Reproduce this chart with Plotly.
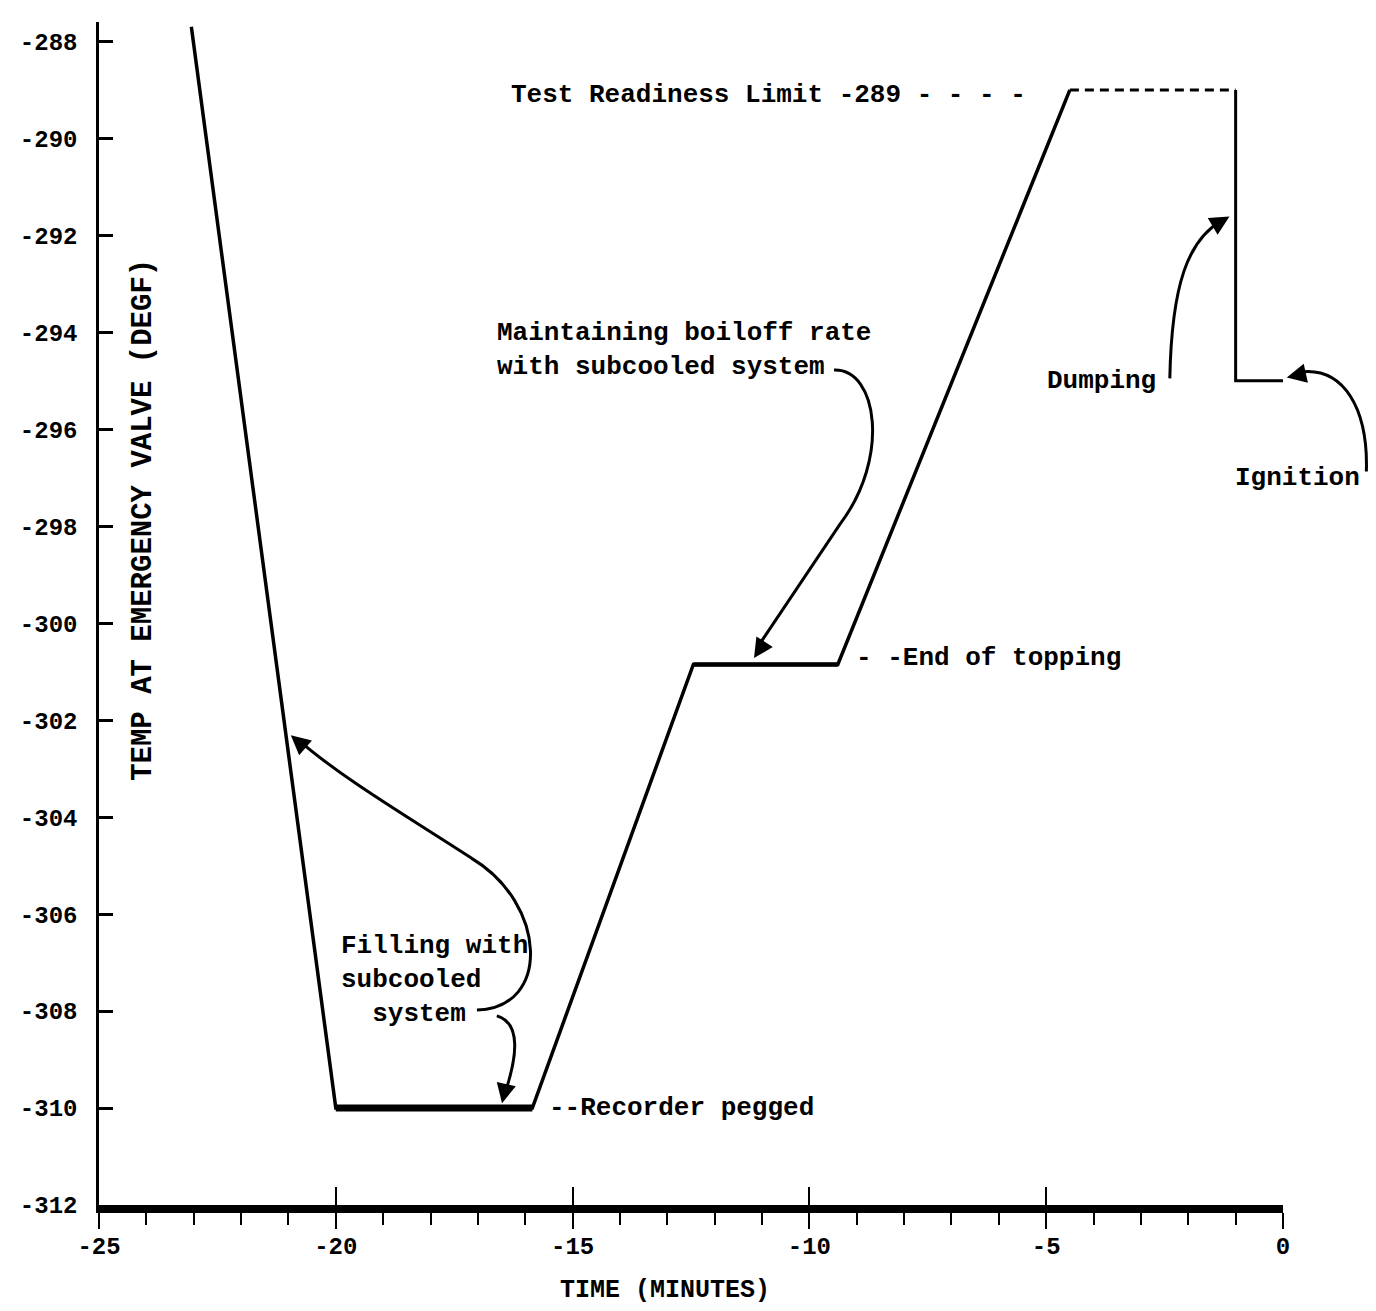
import plotly.graph_objects as go

# ---------------- data ----------------
time_min = [-23.05, -20.0, -15.85, -12.45, -9.4, -4.5]
temp_degf = [-287.7, -310.0, -310.0, -300.85, -300.85, -289.0]

limit_time = [-4.5, -1.0]
limit_temp = [-289.0, -289.0]

dump_time = [-1.0, -1.0, 0.0]
dump_temp = [-289.0, -295.0, -295.0]

x_ticks = [-25, -20, -15, -10, -5, 0]
x_ticktext = ["-25", "-20", "-15", "-10", "-5", "0"]
y_ticks = list(range(-312, -286, 2))
y_ticktext = [str(v) for v in y_ticks]

X_RANGE = [-25, 0]
Y_RANGE = [-312, -287.6]

FONT = "Liberation Mono, Courier New, DejaVu Sans Mono, monospace"


def px(x):
    return (x - X_RANGE[0]) / (X_RANGE[1] - X_RANGE[0])


def py(y):
    return (y - Y_RANGE[0]) / (Y_RANGE[1] - Y_RANGE[0])


def bezier_path(start, *segs):
    p = "M %.5f,%.5f" % (px(start[0]), py(start[1]))
    for seg in segs:
        if len(seg) == 3:
            p += " C " + " ".join("%.5f,%.5f" % (px(a), py(b)) for a, b in seg)
        else:
            p += " L %.5f,%.5f" % (px(seg[0][0]), py(seg[0][1]))
    return p


fig = go.Figure()

fig.add_trace(go.Scatter(x=time_min, y=temp_degf, mode="lines",
                         line=dict(color="black", width=3.5), showlegend=False,
                         hoverinfo="skip"))
fig.add_trace(go.Scatter(x=time_min[1:3], y=temp_degf[1:3], mode="lines",
                         line=dict(color="black", width=7), showlegend=False,
                         hoverinfo="skip"))
fig.add_trace(go.Scatter(x=time_min[3:5], y=temp_degf[3:5], mode="lines",
                         line=dict(color="black", width=4.5), showlegend=False,
                         hoverinfo="skip"))
fig.add_trace(go.Scatter(x=limit_time, y=limit_temp, mode="lines", xaxis="x2",
                         line=dict(color="black", width=3, dash="9px,6px"),
                         showlegend=False, hoverinfo="skip"))
fig.add_trace(go.Scatter(x=dump_time, y=dump_temp, mode="lines",
                         line=dict(color="black", width=3), showlegend=False,
                         hoverinfo="skip"))

# ---------------- curved leader lines ----------------
curves = [
    # Maintaining boiloff -> plateau
    bezier_path((-9.48, -294.78),
                ((-8.55, -294.75), (-8.3, -296.6), (-9.35, -297.95)),
                ((-11.1, -300.5),)),
    # Filling -> upper arrow
    bezier_path((-17.02, -307.98),
                ((-15.44, -307.94), (-15.55, -305.77), (-17.13, -304.85)),
                ((-18.6, -303.92), (-19.86, -303.2), (-20.8, -302.4))),
    # Filling -> lower arrow
    bezier_path((-16.6, -308.1),
                ((-16.07, -308.25), (-16.18, -308.97), (-16.43, -309.7))),
    # Dumping
    bezier_path((-2.39, -294.95),
                ((-2.35, -293.0), (-2.0, -292.1), (-1.3, -291.7))),
    # Ignition
    bezier_path((1.76, -296.87),
                ((1.8, -295.6), (1.3, -294.7), (0.35, -294.82))),
]
for c in curves:
    fig.add_shape(type="path", path=c, xref="paper", yref="paper",
                  line=dict(color="black", width=3))

# ---------------- arrowheads ----------------
heads = [
    ((-11.17, -300.72), 11, -17),
    ((-20.95, -302.31), 15, 13),
    ((-16.49, -309.9), 4, -18),
    ((-1.13, -291.61), -17, 10),
    ((0.08, -294.93), 18, -4),
]
for (hx, hy), ax, ay in heads:
    fig.add_annotation(x=px(hx), y=py(hy), xref="paper", yref="paper",
                       ax=ax, ay=ay, text="", showarrow=True, arrowhead=2,
                       arrowsize=1.3, arrowwidth=3, arrowcolor="black", standoff=0)

# ---------------- text labels ----------------
labels = [
    ("Test Readiness Limit -289 - - - -", -16.35, -289.11, "left"),
    ("Maintaining boiloff rate<br>with subcooled system", -16.64, -294.37, "left"),
    ("Filling with<br>subcooled<br>\u00a0\u00a0system", -19.93, -307.36, "left"),
    ("--Recorder pegged", -15.55, -310.0, "left"),
    ("- -End of topping", -9.06, -300.72, "left"),
    ("Dumping", -3.84, -295.01, "center"),
    ("Ignition", 0.31, -297.01, "center"),
]
for txt, lx, ly, anc in labels:
    fig.add_annotation(x=px(lx), y=py(ly), xref="paper", yref="paper", text=txt,
                       showarrow=False, xanchor=anc, yanchor="middle", align="left",
                       font=dict(family=FONT, size=26, color="black", weight="bold"))

# axis titles (placed as in the original, inside the frame for y)
fig.add_annotation(x=0.037, y=0.579, xref="paper", yref="paper",
                   text="TEMP AT EMERGENCY VALVE (DEGF)", textangle=-90,
                   showarrow=False, xanchor="center", yanchor="middle",
                   font=dict(family=FONT, size=29, color="black", weight="bold"))
fig.add_annotation(x=0.4777, y=-0.072, xref="paper", yref="paper",
                   text="TIME (MINUTES)", showarrow=False, yanchor="middle",
                   xanchor="center",
                   font=dict(family=FONT, size=25, color="black", weight="bold"))

fig.update_layout(
    width=1368, height=1303,
    margin=dict(l=88, r=93, t=14, b=106),
    paper_bgcolor="white", plot_bgcolor="white",
    showlegend=False,
    xaxis=dict(range=X_RANGE, tickvals=x_ticks, ticktext=x_ticktext,
               ticks="outside", ticklen=16, tickwidth=2, tickcolor="black",
               minor=dict(dtick=1, tick0=-25, ticks="outside", ticklen=12,
                          tickwidth=2, tickcolor="black"),
               showline=True, linewidth=8, linecolor="black",
               showgrid=False, zeroline=False, ticklabelstandoff=-4,
               tickfont=dict(family=FONT, size=24, color="black", weight="bold")),
    xaxis2=dict(range=X_RANGE, overlaying="x", anchor="y", side="bottom",
                tickvals=x_ticks[1:-1], ticks="inside", ticklen=18, tickwidth=2,
                tickcolor="black", showticklabels=False, showline=False,
                showgrid=False, zeroline=False),
    yaxis=dict(range=Y_RANGE, tickvals=y_ticks, ticktext=y_ticktext,
               ticks="inside", ticklen=14, tickwidth=3, tickcolor="black",
               showline=True, linewidth=2.5, linecolor="black",
               showgrid=False, zeroline=False, ticklabelstandoff=14,
               tickfont=dict(family=FONT, size=24, color="black", weight="bold")),
)

fig.write_html("out.html")
